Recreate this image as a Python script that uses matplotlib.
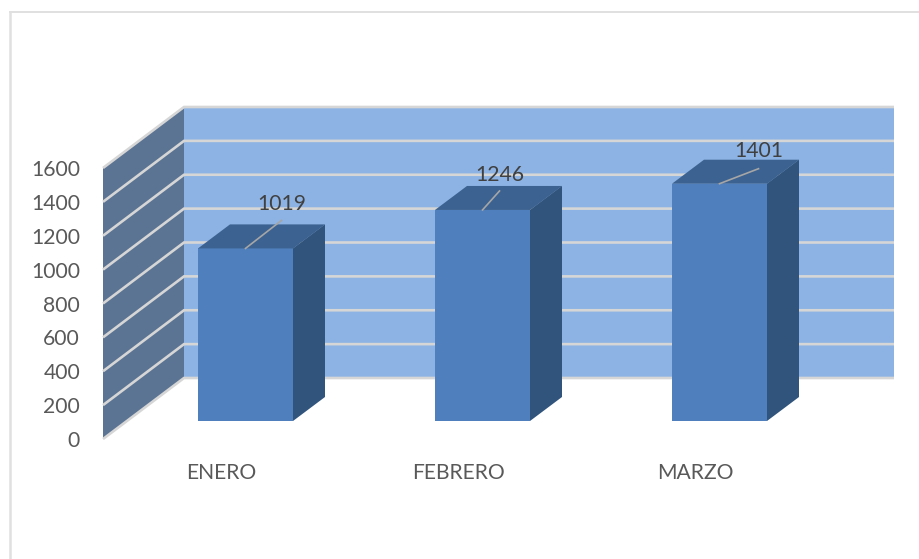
import matplotlib
matplotlib.use('Agg')
import matplotlib.pyplot as plt
from matplotlib.patches import Polygon

meses = ['ENERO', 'FEBRERO', 'MARZO']
valores = [1019, 1246, 1401]
ticks = [0, 200, 400, 600, 800, 1000, 1200, 1400, 1600]

W, H = 919, 559
PX_X = 237.0            # px between bars
PX_Y = 271 / 1600       # px per unit
X0 = 245.5              # px of first bar centre
Y0 = 421                # px of bar baseline

plt.rcParams['font.family'] = ['Lato', 'DejaVu Sans']

fig = plt.figure(figsize=(W / 100, H / 100), dpi=100)
ax = fig.add_axes([0, 0, 1, 1])
ax.set_xlim(-X0 / PX_X, (W - X0) / PX_X)
ax.set_ylim(-(H - Y0) / PX_Y, Y0 / PX_Y)
ax.axis('off')


def dx(px):
    return px / PX_X


def dy(px):
    return px / PX_Y


# walls: front edge of the side wall sits 18 px under the bar baseline
top = max(ticks)
low = -dy(18)
wx0 = dx(103) - dx(X0)
wx1 = dx(184) - dx(X0)
wx2 = dx(894) - dx(X0)
rise = dy(61)

ax.add_patch(Polygon([(wx1, low + rise), (wx2, low + rise), (wx2, low + rise + top), (wx1, low + rise + top)],
                     fc='#8cb3e3', ec='none', zorder=1))
ax.add_patch(Polygon([(wx0, low), (wx1, low + rise), (wx1, low + rise + top), (wx0, low + top)],
                     fc='#5b7493', ec='none', zorder=1))

for t in ticks:
    ax.plot([wx0, wx1, wx2], [low + t, low + rise + t, low + rise + t], color='#d6d6d6', lw=1.9,
            solid_joinstyle='miter', solid_capstyle='butt', zorder=2)
    ax.text(wx0 - dx(23), low + t - dy(2), str(t), ha='right', va='center', fontsize=15.2, color='#595959')

# bars
ancho = 95 / PX_X
ax.bar(range(len(valores)), valores, width=ancho, color='#4f7fbd', zorder=4)
for i, v in enumerate(valores):
    l, r = i - ancho / 2, i + ancho / 2
    ax.add_patch(Polygon([(l, v), (r, v), (r + dx(32), v + dy(24)), (l + dx(32), v + dy(24))],
                         fc='#3c6291', ec='none', zorder=4))
    ax.add_patch(Polygon([(r, 0), (r + dx(32), dy(24)), (r + dx(32), v + dy(24)), (r, v)],
                         fc='#31547c', ec='none', zorder=4))
    ax.text(i - dx(24), -dy(52), meses[i], ha='center', va='center', fontsize=15.2, color='#595959', zorder=5)

# data labels with leader lines, moved by hand in the original
lineas = [(36, 28), (17, 19), (39, 15)]
textos = [(36, 44), (17, 35), (39, 33)]
for i, v in enumerate(valores):
    ax.plot([i, i + dx(lineas[i][0])], [v, v + dy(lineas[i][1])], color='#a6a6a6', lw=1.2, zorder=5)
    ax.text(i + dx(textos[i][0]), v + dy(textos[i][1]), str(v), ha='center', va='center',
            fontsize=15.2, color='#404040', zorder=6)

# chart frame, cropped at the bottom and right of the screenshot
ax.plot([dx(10) - dx(X0), dx(10) - dx(X0)], [-dy(H - Y0), dy(Y0 - 12)], color='#e0e0e0', lw=1.8, zorder=7)
ax.plot([dx(10) - dx(X0), dx(W) - dx(X0)], [dy(Y0 - 12), dy(Y0 - 12)], color='#e0e0e0', lw=1.4, zorder=7)

fig.savefig('out.png', dpi=100, facecolor='white')
